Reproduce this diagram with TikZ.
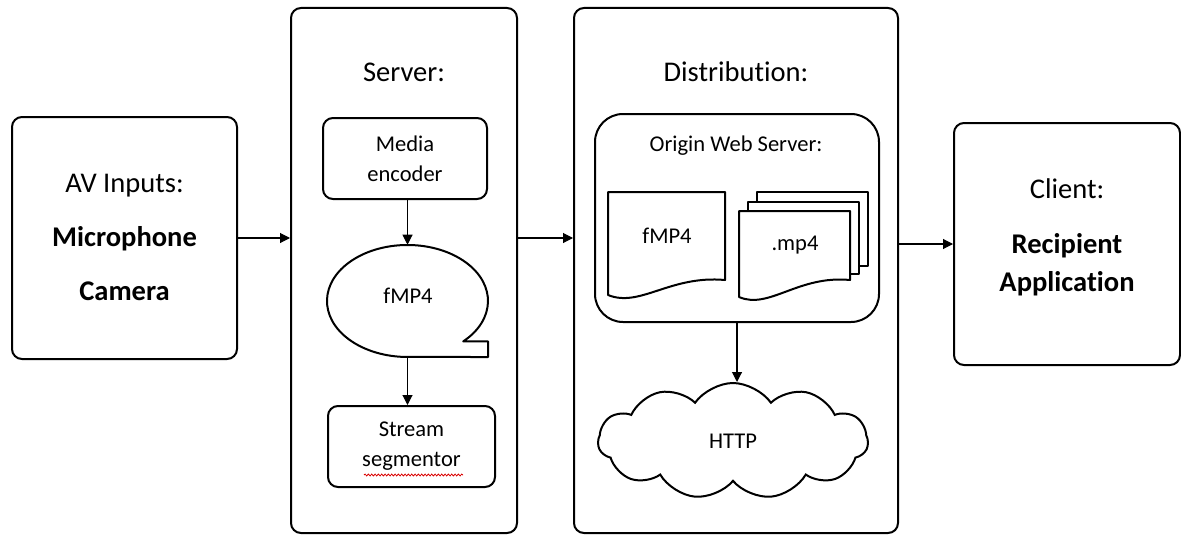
\documentclass[tikz,border=0pt]{standalone}
\usepackage{fontspec}
\setmainfont{Carlito}[RawFeature={-liga}]
\usetikzlibrary{shapes.geometric,shapes.symbols,arrows.meta,decorations.pathmorphing}

\begin{document}
\begin{tikzpicture}[x=0.75pt,y=-0.75pt,
  box/.style={draw, line width=1.5pt, rounded corners=7.5pt, inner sep=0pt},
  big/.style={font=\fontsize{21.4pt}{28.5pt}\selectfont},
  small/.style={font=\fontsize{16.9pt}{22.5pt}\selectfont},
  arr/.style={line width=0.8pt, -{Triangle[length=7.5pt,width=7.5pt]}},
  outline/.style={line width=1.5pt, line join=round},
]
\useasboundingbox (0,0) rectangle (1181,535);

% stage containers
\node[box, minimum width=168.75pt, minimum height=181.5pt] (av) at (124.5,238) {};
\node[box, minimum width=169.5pt, minimum height=393.75pt] (server) at (404,270.5) {};
\node[box, minimum width=243pt, minimum height=393.75pt] (dist) at (736,270.5) {};
\node[box, minimum width=169.5pt, minimum height=181.5pt] (client) at (1067,244) {};

% stage texts
\node[big, align=center] (avtext) at (124.5,237) {AV Inputs:\\[12pt]\textbf{Microphone}\\[12pt]\textbf{Camera}};
\node[big, align=center] (clienttext) at (1067,237) {Client:\\[12.75pt]\textbf{Recipient}\\\textbf{Application}};
\node[big, anchor=base] (servertitle) at (404,82) {Server:};
\node[big, anchor=base] (disttitle) at (736,82) {Distribution:};

% server internals
\node[box, small, align=center, minimum width=123pt, minimum height=60.75pt] (enc) at (405,158.5) {Media\\encoder};
\node[box, small, align=center, minimum width=125.25pt, minimum height=60.75pt] (seg) at (411.5,446.5) {Stream\\segmentor};

% sequential-access storage
\node[ellipse, minimum width=120.75pt, minimum height=84pt, inner sep=0pt] (store) at (407.5,301) {};
\draw[outline] (463.2,341.4) arc[start angle=46.2, end angle=-270, x radius=80.5, y radius=56]
  -- (488,357) -- (488,341.4) -- cycle;
\node[small] (storetext) at (408,296) {fMP4};

% spell-check underline
\draw[red!85!black, line width=0.6pt, decorate, decoration={snake, amplitude=0.7pt, segment length=2.5pt}]
  (364,475) -- (463,475);

% origin web server
\node[box, rounded corners=21pt, minimum width=213pt, minimum height=156pt] (origin) at (737,218) {};
\node[small, anchor=base] (origintitle) at (736,151) {Origin Web Server:};

% single document
\draw[outline, fill=white] (608,192) -- (725,192) -- (725,280)
  .. controls (670,275) and (640,308) .. (608,295) -- cycle;
\node[small] (fdoc) at (667,236) {fMP4};

% multiple documents
\draw[outline, fill=white] (757,192) rectangle (868,266);
\draw[outline, fill=white] (748,202) rectangle (859,274);
\draw[outline, fill=white] (739,211) -- (850,211) -- (850,280)
  .. controls (798,275) and (769,310) .. (739,297) -- cycle;
\node[small] (mdoc) at (795,245) {.mp4};

% delivery cloud
\node[cloud, draw, line width=1.5pt, cloud puffs=11, cloud puff arc=110, aspect=2.3,
  minimum width=202.5pt, minimum height=87pt, inner sep=0pt, small] (http) at (733,441) {HTTP};

% connectors
\draw[arr] (av.east) -- (av.east -| server.west);
\draw[arr] (server.east |- av.east) -- (dist.west |- av.east);
\draw[arr] (dist.east |- client.west) -- (client.west);
\draw[arr] (enc.south -| store.north) -- (store.north);
\draw[arr] (store.south) -- (store.south |- seg.north);
\draw[arr] (origin.south) -- (origin.south |- http.north);
\end{tikzpicture}
\end{document}
